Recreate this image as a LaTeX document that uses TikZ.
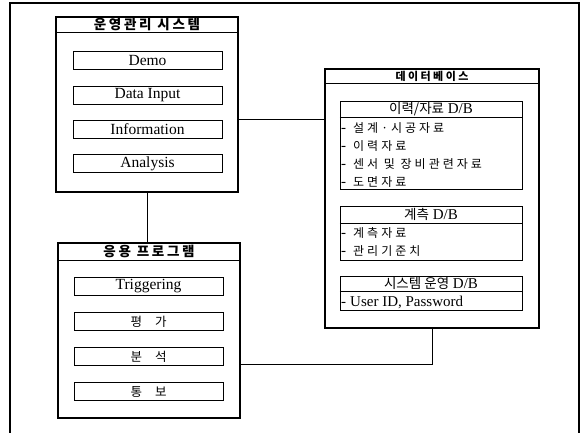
\documentclass[tikz,border=0pt]{standalone}
\usepackage{fontspec}
\setmainfont{Liberation Serif}
\newfontfamily\kr{Noto Sans CJK KR}
\newfontfamily\krwide{Noto Sans CJK KR}[LetterSpace=25]
\newfontfamily\krhead{Noto Sans CJK KR}[LetterSpace=20]
\newfontfamily\krdb{Noto Sans CJK KR}[LetterSpace=22]
\usepackage{tikz}
\usetikzlibrary{positioning}

\tikzset{
  mainbox/.style={draw, line width=1.1pt, inner sep=0pt},
  itembox/.style={draw, line width=0.5pt, inner sep=0pt, minimum width=149pt, minimum height=18pt, font=\fontsize{15.5}{16}\selectfont},
  subbox/.style={draw, line width=0.5pt, inner sep=0pt, minimum width=182pt},
  hdr/.style={font=\fontsize{13.5}{14}\selectfont\krhead\bfseries, inner sep=0pt},
  subhdr/.style={font=\fontsize{15}{16}\selectfont, inner sep=0pt},
  entry/.style={anchor=west, font=\fontsize{15}{16}\selectfont, inner sep=0pt},
  link/.style={line width=0.9pt}
}

\begin{document}
\begin{tikzpicture}[x=1pt,y=-1pt]

  \useasboundingbox (0,0) rectangle (585,432);

  % The outer frame (open at the bottom)
  \draw [line width=1.1pt] (10,440) -- (10,3) -- (579,3) -- (579,440);

  %%%%%%%%%%%%%%%%%%%%%%%%%%%%%%%%%%%%%%%%%%%%%%%%%%%%%%%%%%%%%%%%%%%%%%
  %% Operation system box
  %%%%%%%%%%%%%%%%%%%%%%%%%%%%%%%%%%%%%%%%%%%%%%%%%%%%%%%%%%%%%%%%%%%%%%

  \node [mainbox, minimum width=182pt, minimum height=175pt] (ops) at (147,104.5) {};
  \draw [line width=0.8pt] ([yshift=-16pt]ops.north west) -- ([yshift=-16pt]ops.north east);
  \node [hdr] (ops-title) at ([yshift=-8pt]ops.north) {운영관리 시스템};

  \foreach \i/\t in {0/Demo,1/Data Input,2/Information,3/Analysis}
    \node [itembox] (ops-\i) at (147.5,60.5+34.3*\i) {\t};

  %%%%%%%%%%%%%%%%%%%%%%%%%%%%%%%%%%%%%%%%%%%%%%%%%%%%%%%%%%%%%%%%%%%%%%
  %% Application program box
  %%%%%%%%%%%%%%%%%%%%%%%%%%%%%%%%%%%%%%%%%%%%%%%%%%%%%%%%%%%%%%%%%%%%%%

  \node [mainbox, minimum width=182pt, minimum height=175pt] (app) at (149,330.5) {};
  \draw [line width=0.8pt] ([yshift=-18pt]app.north west) -- ([yshift=-18pt]app.north east);
  \node [hdr] (app-title) at ([yshift=-9pt]app.north) {응용 프로그램};

  \foreach \i/\t in {0/Triggering,1/{\fontsize{12.5}{14}\selectfont\kr 평\hspace{13pt}가},2/{\fontsize{12.5}{14}\selectfont\kr 분\hspace{13pt}석},3/{\fontsize{12.5}{14}\selectfont\kr 통\hspace{13pt}보}}
    \node [itembox] (app-\i) at (148.5,286.5+35*\i) {\t};

  %%%%%%%%%%%%%%%%%%%%%%%%%%%%%%%%%%%%%%%%%%%%%%%%%%%%%%%%%%%%%%%%%%%%%%
  %% Database box
  %%%%%%%%%%%%%%%%%%%%%%%%%%%%%%%%%%%%%%%%%%%%%%%%%%%%%%%%%%%%%%%%%%%%%%

  \node [mainbox, minimum width=214pt, minimum height=259pt] (db) at (432,198.5) {};
  \draw [line width=0.8pt] ([yshift=-15pt]db.north west) -- ([yshift=-15pt]db.north east);
  \node [hdr, font=\fontsize{11}{12}\selectfont\krdb\bfseries] (db-title) at ([yshift=-7.5pt]db.north) {데이터베이스};

  % History / data D/B
  \node [subbox, minimum height=88pt] (hist) at (431,145.5) {};
  \draw [line width=0.5pt] ([yshift=-16pt]hist.north west) -- ([yshift=-16pt]hist.north east);
  \node [subhdr] (hist-title) at ([yshift=-8pt]hist.north) {{\fontsize{13.5}{14}\selectfont\kr 이력/자료} D/B};
  \foreach \i/\t in {0/설계·시공자료,1/이력자료,2/센서 및 장비관련자료,3/도면자료}
    \node [entry] (hist-\i) at (341,128+18*\i) {-\hspace{7pt}{\fontsize{12}{14}\selectfont\krwide\t}};

  % Measurement D/B
  \node [subbox, minimum height=54pt] (meas) at (431,233) {};
  \draw [line width=0.5pt] ([yshift=-17pt]meas.north west) -- ([yshift=-17pt]meas.north east);
  \node [subhdr] (meas-title) at ([yshift=-8.5pt]meas.north) {{\fontsize{13.5}{14}\selectfont\kr 계측} D/B};
  \foreach \i/\t in {0/계측자료,1/관리기준치}
    \node [entry] (meas-\i) at (341,233+18*\i) {-\hspace{7pt}{\fontsize{12}{14}\selectfont\krwide\t}};

  % System operation D/B
  \node [subbox, minimum height=34pt] (sysop) at (431,293) {};
  \draw [line width=0.5pt] ([yshift=-15pt]sysop.north west) -- ([yshift=-15pt]sysop.north east);
  \node [subhdr] (sysop-title) at ([yshift=-7.5pt]sysop.north) {{\fontsize{13.5}{14}\selectfont\kr 시스템 운영} D/B};
  \node [entry] (sysop-0) at (341,302) {-\hspace{4pt}User ID, Password};

  %%%%%%%%%%%%%%%%%%%%%%%%%%%%%%%%%%%%%%%%%%%%%%%%%%%%%%%%%%%%%%%%%%%%%%
  %% Connectors
  %%%%%%%%%%%%%%%%%%%%%%%%%%%%%%%%%%%%%%%%%%%%%%%%%%%%%%%%%%%%%%%%%%%%%%

  \coordinate (ops-out) at (238,119);
  \coordinate (app-out) at (240,364);

  \draw [link] (ops-out) -- (ops-out -| db.west);
  \draw [link] (ops.south) -- (ops.south |- app.north);
  \draw [link] (app-out) -| (db.south);

\end{tikzpicture}
\end{document}
